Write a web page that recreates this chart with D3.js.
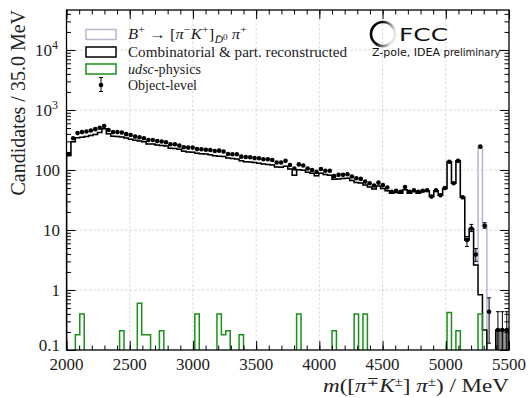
<!DOCTYPE html>
<html>
<head>
<meta charset="utf-8">
<script src="https://cdn.jsdelivr.net/npm/d3@7"></script>
<style>
  body { margin: 0; background: #fff; }
  svg text { font-family: "Liberation Serif", "DejaVu Serif", serif; fill: #222; }
</style>
</head>
<body>
<svg id="chart" width="530" height="398"></svg>
<script>
// binning: 100 bins of 35 MeV between 2000 and 5500
const X_MIN = 2000
const X_MAX = 5500
const BIN_WIDTH = 35
const Y_MIN = 0.1
const Y_MAX = 46400

// object-level points (per bin, 0 = empty)
const objectLevel = [
  183, 338, 412, 428, 438, 456, 479, 505, 541, 464,
  428, 428, 422, 396, 383, 360, 350, 338, 316, 316,
  303, 298, 290, 269, 269, 255, 240, 236, 236, 223,
  222, 218, 215, 207, 210, 203, 185, 183, 183, 167,
  165, 163, 158, 157, 151, 151, 147, 133, 133, 142,
  121, 106, 124, 119, 106, 100, 93, 104, 97, 97,
  79, 83, 83, 85, 78, 73, 71, 64, 60, 55,
  61.5, 56, 51, 43.5, 45, 43.5, 52, 43.5, 46, 43.5,
  45, 46, 36, 46, 38, 50, 137, 60, 142, 35,
  6.8, 10.6, 3.9, 245, 11.8, 0.435, 0, 0.215, 0.215, 0.215,
]

// combinatorial & partially reconstructed (black step)
const combinatorial = [
  175, 295, 345, 350, 360, 375, 390, 420, 485, 400,
  365, 360, 355, 340, 325, 312, 305, 295, 272, 270,
  262, 255, 250, 230, 228, 222, 205, 200, 198, 190,
  187, 184, 180, 172, 170, 168, 158, 155, 152, 142,
  137, 136, 133, 130, 126, 124, 121, 112, 111, 116,
  104, 82, 101, 99, 92, 88, 80, 88, 84, 82,
  70, 71, 72, 73, 67, 62, 61, 56, 52, 48,
  54, 49, 45, 41, 42, 41, 47, 41, 44, 41,
  44, 45, 36, 45, 38, 49, 137, 60, 142, 35,
  6.8, 10.5, 2.6, 0.83, 0.215, 0, 0, 0.215, 0.215, 0.215,
]

// udsc-physics, only the non-empty bins
const udscBins = [2, 3, 12, 16, 17, 18, 21, 29, 34, 35, 36, 39, 52, 60, 65, 67, 86, 88, 93]
const udscValues = [0.18, 0.4, 0.21, 0.6, 0.18, 0.18, 0.21, 0.4, 0.4, 0.18, 0.21, 0.18, 0.4, 0.21, 0.4, 0.4, 0.42, 0.21, 0.4]

// signal, stacked on top of the black step
const signalBins = [93, 94]
const signalValues = [244, 11.8]

// visible error bars on the object-level points
const errorBins = [90, 91, 92, 94, 95, 97, 98, 99]
const errorLow = [5.3, 9.4, 3.0, 10.7, 0.13, 0.01, 0.01, 0.01]
const errorHigh = [7.8, 12.4, 4.9, 13.2, 0.74, 0.435, 0.435, 0.435]

// bins where the tail is shaded
const shadedBins = [97, 98, 99]

const xTicks = [2000, 2500, 3000, 3500, 4000, 4500, 5000, 5500]
const yTicks = [0.1, 1, 10, 100, 1000, 10000]
const yTickLabels = [['0.1'], ['1'], ['10'], ['100'], ['10', '3'], ['10', '4']]

const PLOT = { left: 66.5, right: 509, top: 10, bottom: 350 }
const FLOOR = 1e-3

const svg = d3.select('#chart')
const x = d3.scaleLinear().domain([X_MIN, X_MAX]).range([PLOT.left, PLOT.right])
const y = d3.scaleLog().domain([Y_MIN, Y_MAX]).range([PLOT.bottom, PLOT.top])

const nBins = combinatorial.length
const binEdge = (i) => X_MIN + i * BIN_WIDTH

svg.append('defs').append('clipPath').attr('id', 'plot-clip')
  .append('rect')
  .attr('x', PLOT.left).attr('y', PLOT.top)
  .attr('width', PLOT.right - PLOT.left).attr('height', PLOT.bottom - PLOT.top)

// grid
const grid = svg.append('g').attr('stroke', '#cfcfcf').attr('stroke-width', 0.8).attr('stroke-dasharray', '2.5,2')
grid.selectAll('line.gx').data(xTicks.slice(1, -1)).enter().append('line')
  .attr('x1', (d) => x(d)).attr('x2', (d) => x(d)).attr('y1', PLOT.top).attr('y2', PLOT.bottom)
grid.selectAll('line.gy').data(yTicks.slice(1)).enter().append('line')
  .attr('y1', (d) => y(d)).attr('y2', (d) => y(d)).attr('x1', PLOT.left).attr('x2', PLOT.right)

// step path from per-bin values
function stepPath(values) {
  const pts = [[X_MIN, FLOOR]]
  values.forEach((v, i) => pts.push([binEdge(i), v > 0 ? v : FLOOR]))
  pts.push([X_MAX, FLOOR])
  return d3.line().curve(d3.curveStepAfter).x((d) => x(d[0])).y((d) => y(d[1]))(pts)
}

const udsc = new Array(nBins).fill(0)
udscBins.forEach((b, k) => (udsc[b] = udscValues[k]))
const total = combinatorial.slice()
signalBins.forEach((b, k) => (total[b] = combinatorial[b] + signalValues[k]))

const hist = svg.append('g').attr('clip-path', 'url(#plot-clip)')

hist.selectAll('rect.shade').data(shadedBins).enter().append('rect')
  .attr('x', (d) => x(binEdge(d))).attr('width', x(binEdge(1)) - x(binEdge(0)))
  .attr('y', (d) => y(combinatorial[d])).attr('height', (d) => PLOT.bottom - y(combinatorial[d]))
  .attr('fill', '#7a7a7a')

hist.append('path').attr('d', stepPath(total)).attr('fill', 'none')
  .attr('stroke', '#bab3cf').attr('stroke-width', 1.5)
hist.append('path').attr('d', stepPath(combinatorial)).attr('fill', 'none')
  .attr('stroke', '#000').attr('stroke-width', 1.5)
hist.append('path').attr('d', stepPath(udsc)).attr('fill', 'none')
  .attr('stroke', '#1a8f1a').attr('stroke-width', 1.5)

// object-level points
const center = (i) => x(binEdge(i) + BIN_WIDTH / 2)
const errs = hist.append('g').attr('stroke', '#000').attr('stroke-width', 1)
errorBins.forEach((b, k) => {
  const cx = center(b)
  const y1 = y(Math.max(errorLow[k], FLOOR))
  const y2 = y(errorHigh[k])
  errs.append('line').attr('x1', cx).attr('x2', cx).attr('y1', y1).attr('y2', y2)
  errs.append('line').attr('x1', cx - 2).attr('x2', cx + 2).attr('y1', y2).attr('y2', y2)
  errs.append('line').attr('x1', cx - 2).attr('x2', cx + 2).attr('y1', y1).attr('y2', y1)
})
hist.selectAll('circle.pt')
  .data(objectLevel.map((v, i) => ({ v, i })).filter((d) => d.v > 0))
  .enter().append('circle')
  .attr('cx', (d) => center(d.i)).attr('cy', (d) => y(d.v)).attr('r', 2.3).attr('fill', '#000')

// ticks, inward on all four sides
const xMinor = d3.range(X_MIN, X_MAX + 1, 100)
const yMinor = []
for (let e = -1; e <= 4; e++) for (let k = 2; k <= 9; k++) if (k * 10 ** e < Y_MAX) yMinor.push(k * 10 ** e)

function tickAxis(axis, values, size, transform) {
  const g = svg.append('g').attr('transform', transform)
    .call(axis.tickValues(values).tickSize(-size).tickFormat(''))
  g.select('.domain').remove()
  g.selectAll('line').attr('stroke', '#000').attr('stroke-width', 1)
}
tickAxis(d3.axisBottom(x), xTicks, 9, `translate(0,${PLOT.bottom})`)
tickAxis(d3.axisBottom(x), xMinor, 4.5, `translate(0,${PLOT.bottom})`)
tickAxis(d3.axisTop(x), xTicks, 9, `translate(0,${PLOT.top})`)
tickAxis(d3.axisTop(x), xMinor, 4.5, `translate(0,${PLOT.top})`)
tickAxis(d3.axisLeft(y), yTicks, 9, `translate(${PLOT.left},0)`)
tickAxis(d3.axisLeft(y), yMinor, 4.5, `translate(${PLOT.left},0)`)
tickAxis(d3.axisRight(y), yTicks, 9, `translate(${PLOT.right},0)`)
tickAxis(d3.axisRight(y), yMinor, 4.5, `translate(${PLOT.right},0)`)

svg.append('rect')
  .attr('x', PLOT.left).attr('y', PLOT.top)
  .attr('width', PLOT.right - PLOT.left).attr('height', PLOT.bottom - PLOT.top)
  .attr('fill', 'none').attr('stroke', '#000').attr('stroke-width', 1.3)

// tick labels
svg.selectAll('text.xt').data(xTicks).enter().append('text')
  .attr('x', (d) => x(d)).attr('y', 370).attr('text-anchor', 'middle')
  .attr('font-size', 17).text((d) => d)

yTicks.forEach((t, k) => {
  const lab = yTickLabels[k]
  // the bottom label sits a little higher to clear the x tick labels
  const base = t === Y_MIN ? y(t) + 1 : y(t) + 6
  const txt = svg.append('text').attr('x', lab.length > 1 ? 58 : 60).attr('y', base)
    .attr('text-anchor', 'end').attr('font-size', 17)
  txt.append('tspan').text(lab[0])
  if (lab.length > 1) txt.append('tspan').attr('dy', -7).attr('font-size', 12).text(lab[1])
})

// text with italic / raised / lowered pieces
function richText(sel, parts, size) {
  let shift = 0
  parts.forEach((p) => {
    const off = (p.off || 0) * size
    const ts = sel.append('tspan').text(p.t).attr('dy', off - shift)
    shift = off
    if (p.it) ts.attr('font-style', 'italic')
    if (p.s) ts.attr('font-size', size * p.s)
  })
}

// axis labels
const xl = svg.append('text').attr('x', PLOT.right).attr('y', 392).attr('text-anchor', 'end')
  .attr('font-size', 19).attr('textLength', 186).attr('lengthAdjust', 'spacingAndGlyphs')
richText(xl, [
  { t: 'm', it: true }, { t: '([' }, { t: 'π', it: true }, { t: '∓', off: -0.33, s: 0.65 },
  { t: 'K', it: true }, { t: '±', off: -0.33, s: 0.65 }, { t: '] ' }, { t: 'π', it: true },
  { t: '±', off: -0.33, s: 0.65 }, { t: ') / MeV' },
], 19)

svg.append('text').attr('transform', `translate(25,${PLOT.top}) rotate(-90)`)
  .attr('text-anchor', 'end').attr('font-size', 20).text('Candidates / 35.0 MeV')

// legend
const legend = svg.append('g')
const rows = [39, 56.5, 73.5, 89.5]
legend.append('rect').attr('x', 86).attr('y', 29.5).attr('width', 30).attr('height', 10)
  .attr('fill', '#fff').attr('stroke', '#bab3cf').attr('stroke-width', 1.5)
legend.append('rect').attr('x', 86).attr('y', 47).attr('width', 30).attr('height', 10)
  .attr('fill', '#fff').attr('stroke', '#000').attr('stroke-width', 1.5)
legend.append('rect').attr('x', 86).attr('y', 64).attr('width', 30).attr('height', 10)
  .attr('fill', '#fff').attr('stroke', '#1a8f1a').attr('stroke-width', 1.5)
legend.append('line').attr('x1', 101).attr('x2', 101).attr('y1', 77.5).attr('y2', 91.5).attr('stroke', '#000')
legend.append('line').attr('x1', 99).attr('x2', 103).attr('y1', 77.5).attr('y2', 77.5).attr('stroke', '#000')
legend.append('line').attr('x1', 99).attr('x2', 103).attr('y1', 91.5).attr('y2', 91.5).attr('stroke', '#000')
legend.append('circle').attr('cx', 101).attr('cy', 85).attr('r', 2.3).attr('fill', '#000')

const l1 = legend.append('text').attr('x', 128).attr('y', rows[0]).attr('font-size', 14)
  .attr('textLength', 119).attr('lengthAdjust', 'spacingAndGlyphs')
richText(l1, [
  { t: 'B', it: true }, { t: '+', off: -0.42, s: 0.75 }, { t: ' → [' }, { t: 'π', it: true },
  { t: '−', off: -0.42, s: 0.75 }, { t: 'K', it: true }, { t: '+', off: -0.42, s: 0.75 }, { t: ']' },
  { t: 'D\u0304', it: true, off: 0.3, s: 0.72 }, { t: '0', off: 0.05, s: 0.55 }, { t: ' π', it: true },
  { t: '+', off: -0.42, s: 0.75 },
], 14)
legend.append('text').attr('x', 128).attr('y', rows[1]).attr('font-size', 14)
  .attr('textLength', 219).attr('lengthAdjust', 'spacingAndGlyphs')
  .text('Combinatorial & part. reconstructed')
const l3 = legend.append('text').attr('x', 128).attr('y', rows[2]).attr('font-size', 14)
  .attr('textLength', 73).attr('lengthAdjust', 'spacingAndGlyphs')
richText(l3, [{ t: 'udsc', it: true }, { t: '-physics' }], 14)
legend.append('text').attr('x', 128).attr('y', rows[3]).attr('font-size', 14)
  .attr('textLength', 69).attr('lengthAdjust', 'spacingAndGlyphs').text('Object-level')

// FCC logo
const grad = svg.select('defs').append('linearGradient').attr('id', 'ring')
  .attr('x1', '0').attr('x2', '1').attr('y1', '0').attr('y2', '0.3')
grad.append('stop').attr('offset', '0').attr('stop-color', '#000')
grad.append('stop').attr('offset', '0.45').attr('stop-color', '#111')
grad.append('stop').attr('offset', '1').attr('stop-color', '#e6e6e6')
svg.append('circle').attr('cx', 383).attr('cy', 34).attr('r', 12)
  .attr('fill', 'none').attr('stroke', 'url(#ring)').attr('stroke-width', 2.6)
svg.append('text').attr('x', 399).attr('y', 40.5).attr('font-size', 17)
  .style('font-family', '"DejaVu Sans", sans-serif').style('fill', '#111')
  .attr('textLength', 49).attr('lengthAdjust', 'spacingAndGlyphs')
  .text('FCC')
const sub = svg.append('text').attr('x', 372).attr('y', 56).style('font-family', '"DejaVu Sans", sans-serif')
  .style('fill', '#111')
sub.append('tspan').attr('font-size', 11).text('Z-pole, IDEA ')
sub.append('tspan').attr('font-size', 10).text('preliminary')
</script>
</body>
</html>
